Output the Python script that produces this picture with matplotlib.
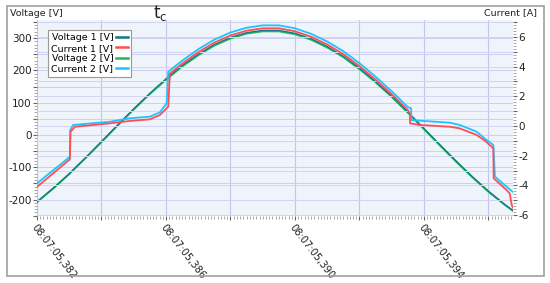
import matplotlib
matplotlib.use("Agg")
import matplotlib.pyplot as plt
from matplotlib.patches import Rectangle
from matplotlib.ticker import MultipleLocator, FuncFormatter

# time axis in ms after 08:07:05
t_volt = [382.0, 382.5, 383.0, 383.5, 384.0, 384.5, 385.0, 385.5, 386.0, 386.5,
          387.0, 387.5, 388.0, 388.5, 389.0, 389.5, 390.0, 390.5, 391.0, 391.5,
          392.0, 392.5, 393.0, 393.5, 394.0, 394.5, 395.0, 395.5, 396.0, 396.5, 396.76]
volt_1 = [-207, -165, -120, -71, -20, 31, 81, 129, 174, 215,
          250, 280, 302, 317, 324, 324, 315, 298, 274, 244,
          207, 165, 120, 71, 20, -31, -81, -129, -174, -215, -234]
volt_2 = [-208, -166, -121, -72, -22, 29, 79, 127, 171, 212,
          247, 277, 299, 314, 321, 321, 312, 295, 271, 241,
          204, 163, 118, 69, 18, -33, -83, -131, -176, -216, -235]

t_cur_1 = [382.0, 383.02, 383.04, 383.18, 384.26, 384.88, 385.5, 385.81, 386.07, 386.12,
           386.5, 387.0, 387.5, 388.0, 388.5, 389.0, 389.5, 390.0, 390.5, 391.0,
           391.5, 392.0, 392.5, 393.0, 393.5, 393.56, 393.57, 393.88, 394.81, 395.11,
           395.63, 395.89, 396.15, 396.16, 396.56, 396.66, 396.72, 396.76]
cur_1 = [-4.10, -2.24, -0.38, -0.05, 0.18, 0.34, 0.45, 0.74, 1.30, 3.53,
         4.20, 4.97, 5.62, 6.10, 6.42, 6.58, 6.58, 6.38, 6.01, 5.49,
         4.84, 4.03, 3.12, 2.14, 1.07, 0.85, 0.18, 0.07, -0.05, -0.16,
         -0.60, -0.99, -1.50, -3.52, -4.31, -4.55, -5.32, -5.50]

t_cur_2 = [382.0, 383.02, 383.03, 383.12, 384.26, 384.88, 385.5, 385.81, 386.02, 386.07,
           386.5, 387.0, 387.5, 388.0, 388.5, 389.0, 389.5, 390.0, 390.5, 391.0,
           391.5, 392.0, 392.5, 393.0, 393.5, 393.6, 393.61, 394.81, 395.11, 395.63,
           395.89, 396.15, 396.2, 396.72, 396.76]
cur_2 = [-3.86, -2.07, -0.27, 0.07, 0.29, 0.52, 0.63, 0.92, 1.53, 3.66,
         4.40, 5.17, 5.82, 6.30, 6.62, 6.78, 6.78, 6.58, 6.21, 5.69,
         5.04, 4.23, 3.32, 2.34, 1.27, 1.19, 0.40, 0.22, 0.07, -0.38,
         -0.85, -1.28, -3.41, -4.38, -4.45]

x_labels = {382: "08:07:05,382", 386: "08:07:05,386", 390: "08:07:05,390", 394: "08:07:05,394"}

fig = plt.figure(figsize=(5.5, 2.83), dpi=100)
ax = fig.add_axes([37 / 550, 1 - 216 / 283, 476 / 550, 196 / 283])
ax2 = ax.twinx()

ax.set_facecolor("#eef4f9")
for a in (ax, ax2):
    for s in a.spines.values():
        s.set_visible(False)

l1, = ax.plot(t_volt, volt_2, color="#1fb85a", lw=1.4, label="Voltage 2 [V]")
l0, = ax.plot(t_volt, volt_1, color="#13788c", lw=0.9, label="Voltage 1 [V]")
l3, = ax2.plot(t_cur_2, cur_2, color="#1ec4ff", lw=1.3, label="Current 2 [V]")
l2, = ax2.plot(t_cur_1, cur_1, color="#ff4d57", lw=1.3, label="Current 1 [V]")

ax.set_xlim(382, 396.76)
ax.set_ylim(-251, 356)
ax2.set_ylim(-6.06, 7.14)

# x axis
ax.xaxis.set_major_locator(MultipleLocator(2))
ax.xaxis.set_minor_locator(MultipleLocator(0.1))
ax.xaxis.set_major_formatter(FuncFormatter(lambda v, p: x_labels.get(int(round(v)), "")))
ax.tick_params(axis="x", which="major", length=3, color="#666", labelsize=7.2,
               labelcolor="#222", pad=2)

# left axis
ax.yaxis.set_major_locator(MultipleLocator(50))
ax.yaxis.set_minor_locator(MultipleLocator(10))
ax.yaxis.set_major_formatter(FuncFormatter(lambda v, p: "%d" % v if round(v) % 100 == 0 else ""))
ax.tick_params(axis="y", which="major", length=3, color="#666", labelsize=7.5,
               labelcolor="#222", pad=1)

# right axis
ax2.yaxis.set_major_locator(MultipleLocator(1))
ax2.yaxis.set_minor_locator(MultipleLocator(0.2))
ax2.yaxis.set_major_formatter(FuncFormatter(lambda v, p: "%d" % v if round(v) % 2 == 0 else ""))
ax2.tick_params(axis="y", which="major", length=3, color="#666", labelsize=7.5,
                labelcolor="#222", pad=1)

for a in (ax, ax2):
    a.tick_params(which="minor", length=2, width=0.6, color="#999")

ax.grid(True, axis="x", color="#c2c6ee", lw=0.8)
ax.grid(True, axis="y", color="#cbcff2", lw=0.7)
ax2.grid(True, axis="y", color="#d2d5f3", lw=0.7)
ax.set_axisbelow(True)
plt.setp(ax.get_xticklabels(), rotation=-52, ha="left", va="top", rotation_mode="anchor")

leg = ax2.legend([l0, l2, l1, l3], ["Voltage 1 [V]", "Current 1 [V]", "Voltage 2 [V]", "Current 2 [V]"],
                 loc="upper left", bbox_to_anchor=(0.023, 0.949), borderaxespad=0,
                 fontsize=6.8, markerfirst=False, handlelength=1.3, handletextpad=0.25,
                 labelspacing=0.15, borderpad=0.35, fancybox=False, framealpha=1,
                 edgecolor="#999999")
leg.get_frame().set_linewidth(0.8)
for h in leg.get_lines():
    h.set_linewidth(1.8)

fig.text(10 / 550, 1 - 13 / 283, "Voltage [V]", fontsize=6.8, color="#222", va="center", ha="left")
fig.text(537 / 550, 1 - 13 / 283, "Current [A]", fontsize=6.8, color="#222", va="center", ha="right")
fig.text(153 / 550, 1 - 13 / 283, r"$\mathregular{t_c}$", fontsize=12, color="#222", va="center", ha="left")

fig.patches.append(Rectangle((7 / 550, 1 - 276 / 283), 537 / 550, 270 / 283, transform=fig.transFigure,
                             fill=False, edgecolor="#a0a0a0", lw=1.2))

fig.savefig("out.png", dpi=100)
